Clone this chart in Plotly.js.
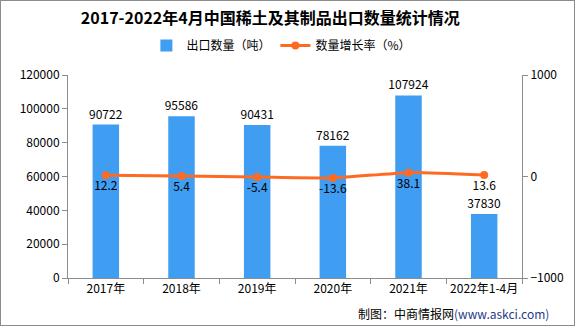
<!DOCTYPE html>
<html><head><meta charset="utf-8">
<script src="https://cdn.plot.ly/plotly-3.0.1.min.js"></script>
<style>
html,body{margin:0;padding:0;background:#fff;}
#wrap{width:575px;height:326px;box-sizing:border-box;border:1px solid #8c8c8c;overflow:hidden;}
#chart{width:573px;height:324px;}
</style></head>
<body><div id="wrap"><div id="chart"></div></div>
<script>
const categories = ["2017年","2018年","2019年","2020年","2021年","2022年1-4月"];
const exportVolume = [90722, 95586, 90431, 78162, 107924, 37830];
const growthRate = [12.2, 5.4, -5.4, -13.6, 38.1, 13.6];
const growthLabels = ["12.2","5.4","-5.4","-13.6","38.1","13.6"];

const font = "'Noto Sans CJK SC', 'DejaVu Sans', sans-serif";
const traces = [
  {type:"bar", name:"出口数量（吨）", x:categories, y:exportVolume,
   marker:{color:"#3F9DF2"}, width:0.35,
   text:exportVolume.map(String), textposition:"outside", cliponaxis:false, constraintext:"none",
   textfont:{size:12,color:"#000",family:font}, hoverinfo:"skip"},
  {type:"scatter", mode:"lines+markers+text", name:"数量增长率（%）", x:categories, y:growthRate, yaxis:"y2",
   line:{color:"#FF6A23", width:3, shape:"spline", smoothing:0.6},
   marker:{color:"#FF6A23", size:8},
   text:growthLabels, textposition:"bottom center",
   textfont:{size:12,color:"#000",family:font}, cliponaxis:false, hoverinfo:"skip"}
];
const layout = {
  width:573, height:324,
  margin:{l:67, r:52, t:74, b:47},
  paper_bgcolor:"#fff", plot_bgcolor:"#fff",
  font:{family:font, size:12, color:"#000"},
  title:{text:"<b>2017-2022年4月中国稀土及其制品出口数量统计情况</b>", font:{size:16, color:"#000", family:font}, x:0.47, xanchor:"center", y:0.945, yanchor:"middle"},
  showlegend:true,
  legend:{orientation:"h", x:0.47, xanchor:"center", y:1.145, yanchor:"middle", font:{size:12, family:font}, itemwidth:30, tracegroupgap:0},
  bargap:0.65,
  xaxis:{type:"category", showline:true, linecolor:"#8c8c8c", linewidth:1, ticks:"outside", tickson:"boundaries", ticklen:5, tickcolor:"#8c8c8c", showgrid:false, tickfont:{size:12}, tickangle:0, automargin:false, fixedrange:true},
  yaxis:{range:[0,120000], dtick:20000, showline:true, linecolor:"#8c8c8c", ticks:"outside", ticklen:5, tickcolor:"#8c8c8c", showgrid:false, zeroline:false, tickfont:{size:12}, tickformat:"d"},
  yaxis2:{overlaying:"y", side:"right", range:[-1000,1000], dtick:1000, showline:true, linecolor:"#8c8c8c", ticks:"outside", ticklen:5, tickcolor:"#8c8c8c", showgrid:false, zeroline:false, tickfont:{size:12}},
  annotations:[{xref:"paper", yref:"paper", x:1.064, y:-0.175, xanchor:"right", yanchor:"middle", showarrow:false,
    text:"制图：中商情报网<span style='color:#1F3A8A'>(www.askci.com)</span>", font:{size:12, family:font, color:"#000"}}]
};
Plotly.newPlot("chart", traces, layout, {staticPlot:true});
</script></body></html>
